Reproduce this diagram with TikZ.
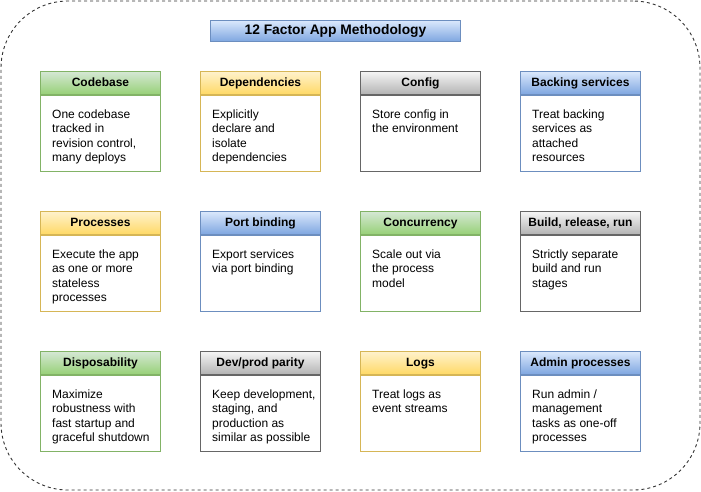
\documentclass[tikz,border=0pt]{standalone}
\usepackage{fontspec}
\setmainfont{Liberation Sans}
\usetikzlibrary{calc}

% header / border colours of the four card families
\definecolor{greenTop}{HTML}{D5E8D4}\definecolor{greenBot}{HTML}{97D077}\definecolor{greenLine}{HTML}{82B366}
\definecolor{yellowTop}{HTML}{FFF2CC}\definecolor{yellowBot}{HTML}{FFD966}\definecolor{yellowLine}{HTML}{D6B656}
\definecolor{grayTop}{HTML}{F5F5F5}\definecolor{grayBot}{HTML}{B3B3B3}\definecolor{grayLine}{HTML}{666666}
\definecolor{blueTop}{HTML}{DAE8FC}\definecolor{blueBot}{HTML}{7EA6E0}\definecolor{blueLine}{HTML}{6C8EBF}

\tikzset{
  frame/.style={draw=black!80, line width=0.9pt, dash pattern=on 3pt off 3pt,
    rounded corners=67pt, minimum width=699pt, minimum height=489pt, inner sep=0pt},
  titlebox/.style={top color=blueTop, bottom color=blueBot, draw=blueLine, line width=0.9pt,
    minimum width=250pt, minimum height=21pt, inner sep=0pt,
    text height=10pt, text depth=3pt,
    font=\fontsize{13.8}{15}\selectfont\bfseries},
  head/.style={top color=#1Top, bottom color=#1Bot, draw=#1Line, line width=0.9pt,
    minimum width=120pt, minimum height=23pt, inner sep=0pt,
    text height=9pt, text depth=2.6pt,
    font=\fontsize{12}{14}\selectfont\bfseries},
  body/.style={fill=white, draw=#1Line, line width=0.9pt,
    minimum width=120pt, minimum height=76pt, inner sep=0pt},
  bodytext/.style={align=left, inner sep=0pt, anchor=north west,
    font=\fontsize{12}{14.6}\selectfont},
}

% one factor card: name, left, top, colour family, heading, description
\newcommand{\factorcard}[6]{%
  \node[head=#4, anchor=north west] (#1-head) at (#2,#3) {#5};
  \node[body=#4, anchor=north] (#1-body) at (#1-head.south) {};
  \node[bodytext] (#1-text) at ($(#1-body.north west)+(12,14.2)$) {#6};
}

\begin{document}
\begin{tikzpicture}[x=1pt, y=-1pt]
  \useasboundingbox (0,0) rectangle (701,491);

  \node[frame] (frame) at (350.5,245.5) {};
  \node[titlebox, anchor=north west] (title) at (210,20) {12 Factor App Methodology};

  % first row
  \factorcard{codebase}{40}{71}{green}{Codebase}{One codebase\\tracked in\\revision control,\\many deploys}
  \factorcard{deps}{200}{71}{yellow}{Dependencies}{Explicitly\\declare and\\isolate\\dependencies}
  \factorcard{config}{360}{71}{gray}{Config}{Store config in\\the environment}
  \factorcard{backing}{520}{71}{blue}{Backing services}{Treat backing\\services as\\attached\\resources}

  % second row
  \factorcard{processes}{40}{211}{yellow}{Processes}{Execute the app\\as one or more\\stateless\\processes}
  \factorcard{port}{200}{211}{blue}{Port binding}{Export services\\via port binding}
  \factorcard{concurrency}{360}{211}{green}{Concurrency}{Scale out via\\the process\\model}
  \factorcard{build}{520}{211}{gray}{Build, release, run}{Strictly separate\\build and run\\stages}

  % third row
  \factorcard{dispose}{40}{351}{green}{Disposability}{Maximize\\robustness with\\fast startup and\\graceful shutdown}
  \factorcard{parity}{200}{351}{gray}{Dev/prod parity}{Keep development,\\staging, and\\production as\\similar as possible}
  \factorcard{logs}{360}{351}{yellow}{Logs}{Treat logs as\\event streams}
  \factorcard{admin}{520}{351}{blue}{Admin processes}{Run admin /\\management\\tasks as one-off\\processes}
\end{tikzpicture}
\end{document}
